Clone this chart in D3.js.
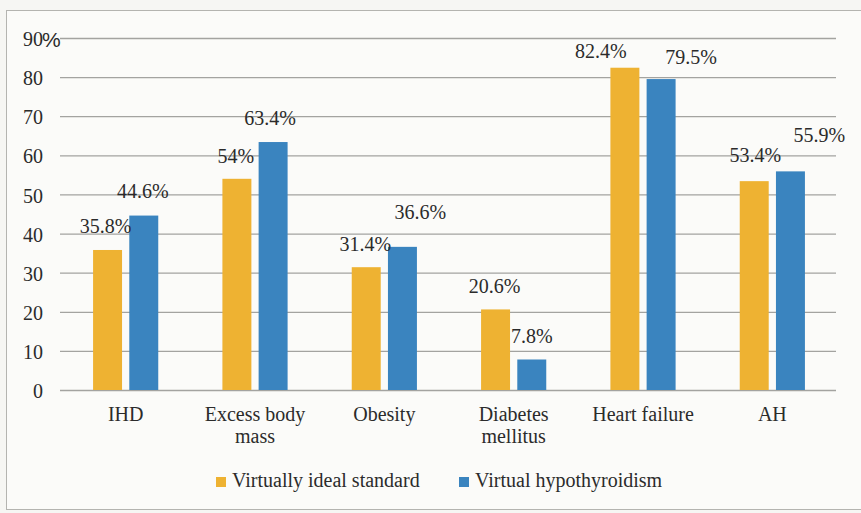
<!DOCTYPE html>
<html>
<head>
<meta charset="utf-8">
<script src="https://cdn.jsdelivr.net/npm/d3@7"></script>
<style>
  html, body { margin: 0; padding: 0; background: #f6f6f3; }
  svg { display: block; }
  text { font-family: "Liberation Serif", "Times New Roman", serif; fill: #2b2b2b; }
</style>
</head>
<body>
<svg id="chart" width="861" height="513"></svg>
<script>
// Prevalence of comorbidities by thyroid status, %
const categories = ["IHD", "Excess body mass", "Obesity", "Diabetes mellitus", "Heart failure", "AH"];
const categoryLines = [["IHD"], ["Excess body", "mass"], ["Obesity"], ["Diabetes", "mellitus"], ["Heart failure"], ["AH"]];
const seriesNames = ["Virtually ideal standard", "Virtual hypothyroidism"];
const idealValues = [35.8, 54, 31.4, 20.6, 82.4, 53.4];
const hypoValues = [44.6, 63.4, 36.6, 7.8, 79.5, 55.9];
const yTicks = [0, 10, 20, 30, 40, 50, 60, 70, 80, 90];

const colors = ["#eeb232", "#3a84bf"];

// hand placement of the value labels (dx, rise above bar top), per series
const labelNudge = [
  [[-2, 17], [-1, 16], [-1, 16], [-1, 16], [-24, 10], [1, 19]],
  [[-1, 18], [-3, 17], [18, 28], [0, 16], [30, 15], [29, 29]]
];

const svg = d3.select("#chart");
const W = 861, H = 513;
const plot = { left: 61, right: 837, top: 38, bottom: 390 };

// outer frame
svg.append("rect")
  .attr("x", 6.5).attr("y", 10.5)
  .attr("width", 870).attr("height", 499)
  .attr("fill", "#fbfbf9")
  .attr("stroke", "#b4b4b0").attr("stroke-width", 1);

const x0 = d3.scaleBand().domain(categories).range([plot.left, plot.right]);
const x1 = d3.scaleBand().domain(seriesNames)
  .range([x0.bandwidth() * 0.248, x0.bandwidth() * 0.752])
  .paddingInner(0.2);
const y = d3.scaleLinear().domain([0, 90]).range([plot.bottom, plot.top]);

// gridlines + tick labels
const yAxis = d3.axisLeft(y)
  .tickValues(yTicks)
  .tickSize(-(plot.right - plot.left))
  .tickPadding(17)
  .tickFormat(d3.format("d"));

const gy = svg.append("g")
  .attr("transform", `translate(${plot.left - 1},0)`)
  .call(yAxis);
gy.select(".domain").remove();
gy.selectAll(".tick line")
  .attr("stroke", "#a3a3a0").attr("stroke-width", 1.3);
gy.selectAll(".tick text")
  .attr("font-family", "Liberation Serif, serif")
  .attr("font-size", 20)
  .attr("fill", "#2b2b2b")
  .attr("dy", "0.38em");

// unit sign after the top tick
svg.append("text")
  .attr("x", plot.left - 19)
  .attr("y", y(90) + 8.5)
  .style("font-family", "Liberation Sans, Arial, sans-serif")
  .attr("font-size", 21)
  .text("%");

// bars
const rows = categories.map((c, i) => ({
  cat: c, i,
  vals: [idealValues[i], hypoValues[i]]
}));

const groups = svg.append("g").selectAll("g")
  .data(rows).join("g")
  .attr("transform", d => `translate(${x0(d.cat)},0)`);

groups.selectAll("rect")
  .data(d => d.vals.map((v, s) => ({ v, s, i: d.i })))
  .join("rect")
  .attr("x", d => x1(seriesNames[d.s]))
  .attr("y", d => y(d.v))
  .attr("width", x1.bandwidth())
  .attr("height", d => y(0) - y(d.v))
  .attr("fill", d => colors[d.s]);

// value labels
groups.selectAll("text.val")
  .data(d => d.vals.map((v, s) => ({ v, s, i: d.i })))
  .join("text")
  .attr("class", "val")
  .attr("text-anchor", "middle")
  .attr("font-size", 20)
  .attr("x", d => x1(seriesNames[d.s]) + x1.bandwidth() / 2 + labelNudge[d.s][d.i][0])
  .attr("y", d => y(d.v) - labelNudge[d.s][d.i][1])
  .text(d => d.v + "%");

// category labels
groups.append("text")
  .attr("text-anchor", "middle")
  .attr("font-size", 20)
  .attr("x", x0.bandwidth() / 2)
  .attr("y", plot.bottom + 31)
  .selectAll("tspan")
  .data(d => categoryLines[d.i])
  .join("tspan")
  .attr("x", x0.bandwidth() / 2)
  .attr("dy", (d, k) => k === 0 ? 0 : 22)
  .text(d => d);

// legend
const legendItems = [
  { name: seriesNames[0], x: 216 },
  { name: seriesNames[1], x: 459 }
];
const lg = svg.append("g").selectAll("g")
  .data(legendItems).join("g")
  .attr("transform", d => `translate(${d.x},487)`);
lg.append("rect")
  .attr("x", 0).attr("y", -10)
  .attr("width", 10).attr("height", 10)
  .attr("fill", (d, k) => colors[k]);
lg.append("text")
  .attr("x", 16).attr("y", 0)
  .attr("font-size", 20)
  .text(d => d.name);
</script>
</body>
</html>
